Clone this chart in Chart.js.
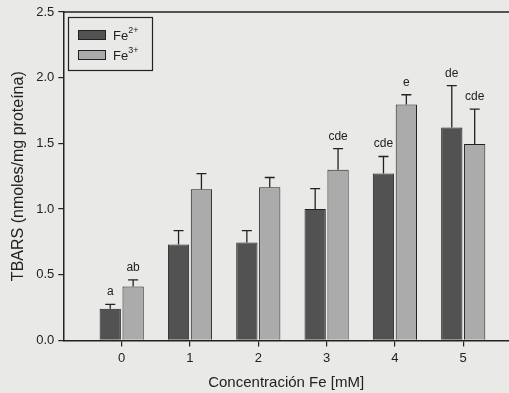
<!DOCTYPE html>
<html>
<head>
<meta charset="utf-8">
<script src="https://cdn.jsdelivr.net/npm/chart.js@4/dist/chart.umd.min.js"></script>
<style>
  html, body { margin: 0; padding: 0; background: #e9e9e7; }
  canvas { display: block; }
</style>
</head>
<body>
<canvas id="chart" width="509" height="393"></canvas>
<script>
// Data
const concentrations = [0, 1, 2, 3, 4, 5]
const fe2 = [0.24, 0.73, 0.745, 1.0, 1.27, 1.62]
const fe2Err = [0.035, 0.105, 0.09, 0.155, 0.13, 0.32]
const fe3 = [0.41, 1.15, 1.165, 1.30, 1.795, 1.495]
const fe3Err = [0.05, 0.12, 0.075, 0.16, 0.075, 0.265]
const fe2Letters = ["a", "", "", "", "cde", "de"]
const fe3Letters = ["ab", "", "", "cde", "e", "cde"]
const yTicks = [0, 0.5, 1.0, 1.5, 2.0, 2.5]

const ink = "#222"
const fontFam = "'Liberation Sans', Arial, sans-serif"

// error bars (upper only) + letters above them
const errorBars = {
    id: "errorBars",
    afterDatasetsDraw(chart) {
        const ctx = chart.ctx
        const y = chart.scales.y
        const errs = [fe2Err, fe3Err]
        const letters = [fe2Letters, fe3Letters]
        ctx.save()
        ctx.strokeStyle = ink
        ctx.lineWidth = 1.3
        ctx.fillStyle = ink
        ctx.font = `12px ${fontFam}`
        ctx.textAlign = "center"
        ctx.textBaseline = "alphabetic"
        chart.data.datasets.forEach((ds, i) => {
            chart.getDatasetMeta(i).data.forEach((bar, j) => {
                const top = y.getPixelForValue(ds.data[j].y + errs[i][j])
                ctx.beginPath()
                ctx.moveTo(bar.x, bar.y)
                ctx.lineTo(bar.x, top)
                ctx.moveTo(bar.x - 5, top)
                ctx.lineTo(bar.x + 5, top)
                ctx.stroke()
                if (letters[i][j]) ctx.fillText(letters[i][j], bar.x, top - 9)
            })
        })
        ctx.restore()
    }
}

// top frame line + boxed legend inside the plot
const frame = {
    id: "frame",
    afterDraw(chart) {
        const ctx = chart.ctx
        const a = chart.chartArea
        ctx.save()
        ctx.strokeStyle = ink
        ctx.lineWidth = 1.5
        ctx.beginPath()
        ctx.moveTo(a.left, a.top)
        ctx.lineTo(a.right, a.top)
        ctx.stroke()

        ctx.lineWidth = 1.2
        ctx.strokeRect(68.5, 17.5, 84, 53)
        const items = [["Fe", "2+", chart.data.datasets[0].backgroundColor],
                       ["Fe", "3+", chart.data.datasets[1].backgroundColor]]
        items.forEach((it, k) => {
            const yy = 30 + k * 20
            ctx.fillStyle = it[2]
            ctx.fillRect(78, yy, 28, 10)
            ctx.lineWidth = 1
            ctx.strokeRect(78.5, yy + 0.5, 27, 9)
            ctx.fillStyle = ink
            ctx.textBaseline = "alphabetic"
            ctx.font = `13px ${fontFam}`
            ctx.fillText(it[0], 113, yy + 10)
            const w = ctx.measureText(it[0]).width
            ctx.font = `9px ${fontFam}`
            ctx.fillText(it[1], 113 + w, yy + 3)
        })
        ctx.restore()
    }
}

new Chart(document.getElementById("chart"), {
    type: "bar",
    data: {
        datasets: [{
            label: "Fe2+",
            data: concentrations.map((c, i) => ({ x: c, y: fe2[i] })),
            backgroundColor: "#525252",
            borderColor: ink,
            borderWidth: 1
        }, {
            label: "Fe3+",
            data: concentrations.map((c, i) => ({ x: c, y: fe3[i] })),
            backgroundColor: "#ababab",
            borderColor: ink,
            borderWidth: 1
        }]
    },
    plugins: [errorBars, frame],
    options: {
        responsive: false,
        animation: false,
        categoryPercentage: 0.67,
        barPercentage: 0.93,
        layout: { padding: { top: 12, right: 0, bottom: 1, left: 9 } },
        plugins: { legend: { display: false }, tooltip: { enabled: false } },
        scales: {
            x: {
                type: "linear",
                min: -0.855,
                max: 5.67,
                offset: false,
                afterBuildTicks: (s) => { s.ticks = concentrations.map(v => ({ value: v })) },
                grid: { offset: false, drawOnChartArea: false, drawTicks: true, tickLength: 6, tickColor: ink, lineWidth: 1.2 },
                border: { color: ink, width: 1.5 },
                ticks: { color: ink, font: { family: fontFam, size: 13 }, padding: 4 },
                title: { display: true, text: "Concentración Fe [mM]", color: ink, font: { family: fontFam, size: 15 }, padding: { top: 4, bottom: 0 } }
            },
            y: {
                min: 0,
                max: 2.5,
                afterBuildTicks: (s) => { s.ticks = yTicks.map(v => ({ value: v })) },
                grid: { drawOnChartArea: false, drawTicks: true, tickLength: 5, tickColor: ink, lineWidth: 1.2 },
                border: { color: ink, width: 1.5 },
                ticks: { color: ink, font: { family: fontFam, size: 13 }, padding: 4, callback: (v) => v.toFixed(1) },
                title: { display: true, text: "TBARS (nmoles/mg proteína)", color: ink, font: { family: fontFam, size: 16 }, padding: { top: 0, bottom: 4 } }
            }
        }
    }
});
</script>
</body>
</html>
